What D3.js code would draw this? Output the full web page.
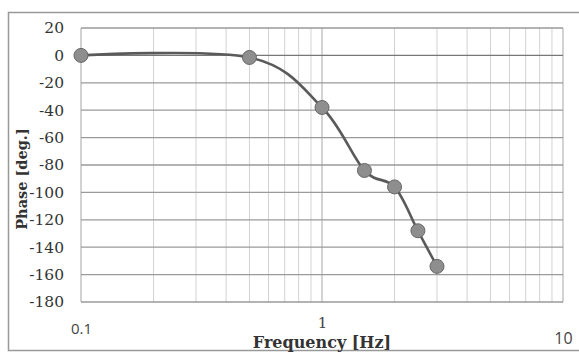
<!DOCTYPE html>
<html>
<head>
  <meta charset="utf-8">
  <script src="https://d3js.org/d3.v7.min.js"></script>
  <style>
    body { margin: 0; background: #fff; }
  </style>
</head>
<body>
<div id="chart"></div>
<script>
// data
var freq  = [0.1, 0.5, 1, 1.5, 2, 2.5, 3];
var phase = [0, -1.5, -38, -84, -96, -128, -154];
var yTicks = [20, 0, -20, -40, -60, -80, -100, -120, -140, -160, -180];
var xTicks = [0.1, 1, 10];

var W = 579, H = 352;
var margin = {top: 28, right: 16, bottom: 50, left: 81},
    width = W - margin.left - margin.right,
    height = H - margin.top - margin.bottom;

var svg = d3.select("#chart").append("svg")
    .attr("width", W)
    .attr("height", H);

// outer chart border
svg.append("rect")
    .attr("x", 8.5).attr("y", 12.5)
    .attr("width", W + 10).attr("height", H - 14)
    .attr("fill", "none")
    .attr("stroke", "#999")
    .attr("stroke-width", 1.5);

var g = svg.append("g")
    .attr("transform", "translate(" + margin.left + "," + margin.top + ")");

var x = d3.scaleLog().domain([0.1, 10]).range([0, width]);
var y = d3.scaleLinear().domain([-180, 20]).range([height, 0]);

// minor vertical grid
var minor = [];
[0.1, 1].forEach(function (d) {
  for (var k = 2; k <= 9; k++) minor.push(d * k);
});
g.append("g").selectAll("line")
  .data(minor)
  .enter().append("line")
    .attr("x1", function (d) { return x(d); })
    .attr("x2", function (d) { return x(d); })
    .attr("y1", 0).attr("y2", height)
    .attr("stroke", "#d2d2d2")
    .attr("stroke-width", 1);

// major vertical grid
g.append("g").selectAll("line")
  .data(xTicks)
  .enter().append("line")
    .attr("x1", function (d) { return x(d); })
    .attr("x2", function (d) { return x(d); })
    .attr("y1", 0).attr("y2", height)
    .attr("stroke", "#b5b5b5")
    .attr("stroke-width", 1.2);

// horizontal grid
g.append("g").selectAll("line")
  .data(yTicks)
  .enter().append("line")
    .attr("x1", 0).attr("x2", width)
    .attr("y1", function (d) { return y(d); })
    .attr("y2", function (d) { return y(d); })
    .attr("stroke", function (d) { return d == 0 ? "#777" : "#9a9a9a"; })
    .attr("stroke-width", 1.3);

// Y axis labels
var yAxis = g.append("g")
    .call(d3.axisLeft(y).tickValues(yTicks).tickSize(0).tickPadding(17)
      .tickFormat(function (d) { return d; }));
yAxis.select(".domain").remove();
yAxis.selectAll("text")
    .style("font-family", "'DejaVu Serif', serif")
    .style("font-size", "15.5px")
    .attr("fill", "#333");

// X axis labels
var xAxis = g.append("g")
    .attr("transform", "translate(0," + height + ")")
    .call(d3.axisBottom(x).tickValues(xTicks).tickSize(0).tickPadding(18)
      .tickFormat(function (d) { return d; }));
xAxis.select(".domain").remove();
xAxis.selectAll("text")
    .style("font-family", function (d) { return d == 1 ? "'DejaVu Serif', serif" : "'Open Sans', sans-serif"; })
    .style("font-size", function (d) { return d == 10 ? "16px" : "15px"; })
    .attr("fill", "#444")
    .attr("dy", function (d) { return d == 10 ? "1.5em" : d == 1 ? "0.5em" : "0.9em"; });

// axis titles
svg.append("text")
    .attr("x", margin.left + x(1))
    .attr("y", 348)
    .attr("text-anchor", "middle")
    .style("font-family", "'DejaVu Serif', serif")
    .style("font-size", "16px")
    .style("font-weight", "bold")
    .attr("fill", "#333")
    .text("Frequency [Hz]");

svg.append("text")
    .attr("transform", "translate(27," + 179 + ") rotate(-90)")
    .attr("text-anchor", "middle")
    .style("font-family", "'DejaVu Serif', serif")
    .style("font-size", "14.5px")
    .style("font-weight", "bold")
    .attr("fill", "#333")
    .text("Phase [deg.]");

// smoothed line
var pts = freq.map(function (f, i) { return [f, phase[i]]; });
var line = d3.line()
    .x(function (d) { return x(d[0]); })
    .y(function (d) { return y(d[1]); })
    .curve(d3.curveCardinal.tension(0));

g.append("path")
    .datum(pts)
    .attr("d", line)
    .attr("fill", "none")
    .attr("stroke", "#5a5a5a")
    .attr("stroke-width", 2.6);

// markers
g.append("g").selectAll("circle")
  .data(pts)
  .enter().append("circle")
    .attr("cx", function (d) { return x(d[0]); })
    .attr("cy", function (d) { return y(d[1]); })
    .attr("r", 7)
    .attr("fill", "#8e8e8e")
    .attr("stroke", "#666")
    .attr("stroke-width", 1);
</script>
</body>
</html>
